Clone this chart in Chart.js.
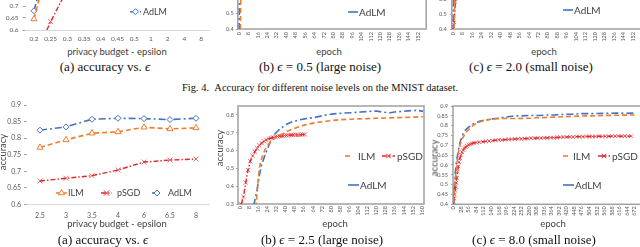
<!DOCTYPE html>
<html>
<head>
<meta charset="utf-8">
<script src="https://cdn.jsdelivr.net/npm/chart.js@4.4.1/dist/chart.umd.min.js"></script>
<style>
html, body { margin: 0; padding: 0; background: #fff; }
#page { position: relative; width: 640px; height: 247px; overflow: hidden; background: #fff; }
canvas { position: absolute; }
.t { position: absolute; white-space: nowrap; transform: translate(-50%, -50%); font-family: Lato, sans-serif; font-size: 9.5px; color: #404040; }
.yt { transform: translate(-50%, -50%) rotate(-90deg); }
.cap { font-family: "Liberation Serif", "Times New Roman", serif; font-size: 13px; color: #111; }
.fig { font-size: 10.5px; }
</style>
</head>
<body>
<div id="page">
  <canvas id="topA" width="213" height="118" style="left:0px;top:-76px"></canvas>
  <canvas id="topB" width="217" height="122" style="left:213px;top:-77px"></canvas>
  <canvas id="topC" width="216" height="116" style="left:430px;top:-71px"></canvas>
  <canvas id="botA" width="213" height="130" style="left:0px;top:95px"></canvas>
  <canvas id="botB" width="214" height="125" style="left:213px;top:95px"></canvas>
  <canvas id="botC" width="216" height="125" style="left:430px;top:95px"></canvas>

  <div class="t" style="left:117px;top:51px">privacy budget - epsilon</div>
  <div class="t" style="left:329px;top:51px">epoch</div>
  <div class="t" style="left:544px;top:51px">epoch</div>
  <div class="t cap" style="left:105px;top:67px">(a) accuracy vs. <i>ϵ</i></div>
  <div class="t cap" style="left:320px;top:67px">(b) <i>ϵ</i> = 0.5 (large noise)</div>
  <div class="t cap" style="left:531px;top:67px">(c) <i>ϵ</i> = 2.0 (small noise)</div>
  <div class="t cap fig" style="left:320px;top:87px">Fig. 4.&nbsp;&nbsp;Accuracy for different noise levels on the MNIST dataset.</div>

  <div class="t yt" style="left:2px;top:152px">accuracy</div>
  <div class="t yt" style="left:219px;top:148px">accuracy</div>
  <div class="t yt" style="left:434px;top:158px">accuracy</div>
  <div class="t" style="left:117px;top:223px">privacy budget - epsilon</div>
  <div class="t" style="left:335px;top:223px">epoch</div>
  <div class="t" style="left:553px;top:223px">epoch</div>
  <div class="t cap" style="left:103px;top:240px">(a) accuracy vs. <i>ϵ</i></div>
  <div class="t cap" style="left:322px;top:240px">(b) <i>ϵ</i> = 2.5 (large noise)</div>
  <div class="t cap" style="left:534px;top:240px">(c) <i>ϵ</i> = 8.0 (small noise)</div>
</div>

<script>
// ---- top row (only the lower part is in the picture) ----
const epsTop = ['0.2', '0.25', '0.3', '0.35', '0.4', '0.45', '0.5', '1', '2', '4', '8'];
const topA_ILM  = [0.646, 0.91, 0.94, 0.95, 0.955, 0.96, 0.962, 0.968, 0.972, 0.975, 0.976];
const topA_pSGD = [0.48, 0.635, 0.77, 0.84, 0.87, 0.89, 0.9, 0.92, 0.93, 0.94, 0.94];
const topA_AdLM = [0.68, 0.93, 0.95, 0.96, 0.965, 0.968, 0.97, 0.975, 0.978, 0.98, 0.98];
const topA_yTicks = [0.6, 0.65, 0.7, 0.75, 0.8, 0.85, 0.9, 0.95, 1.0];

const topB_epochs = [0, 1, 2, 4, 8, 16, 32, 64, 96, 128, 158];
const topB_ILM  = [0.2, 0.3, 0.88, 0.9, 0.92, 0.94, 0.95, 0.96, 0.965, 0.968, 0.97];
const topB_pSGD = [0.65, 0.75, 0.8, 0.84, 0.87, 0.89, 0.9, 0.91];
const topB_AdLM = [0.3, 0.9, 0.92, 0.93, 0.94, 0.95, 0.96, 0.97, 0.972, 0.975, 0.976];

const topC_epochs = [0, 1, 2, 3, 4, 8, 16, 32, 64, 96, 128, 162];
const topC_ILM  = [0.3, 0.42, 0.88, 0.9, 0.91, 0.93, 0.95, 0.96, 0.97, 0.972, 0.975, 0.976];
const topC_pSGD = [0.4, 0.445, 0.58, 0.68, 0.74, 0.82, 0.87, 0.9, 0.92, 0.93, 0.935, 0.94];
const topC_AdLM = [0.35, 0.85, 0.9, 0.91, 0.92, 0.94, 0.95, 0.96, 0.97, 0.975, 0.977, 0.978];

const topEpochTicks = [0, 8, 16, 24, 32, 40, 48, 56, 64, 72, 80, 88, 96, 104, 112, 120, 128, 136, 144, 152];
const topBC_yTicks = [0.4, 0.5, 0.6, 0.7, 0.8, 0.9, 1.0];

// ---- bottom row ----
const epsBot = ['2.5', '3', '3.5', '4', '6', '6.5', '8'];
const botA_ILM  = [0.772, 0.795, 0.815, 0.819, 0.833, 0.828, 0.831];
const botA_pSGD = [0.671, 0.679, 0.687, 0.704, 0.728, 0.734, 0.737];
const botA_AdLM = [0.824, 0.834, 0.857, 0.86, 0.859, 0.856, 0.86];
const botA_yTicks = [0.6, 0.65, 0.7, 0.75, 0.8, 0.85, 0.9];

const botB_ILM_ep = [14, 16, 17, 18, 20, 22, 25, 28, 31, 34, 38, 42, 46, 50, 55, 60, 66, 72, 80, 88, 96, 104, 112, 120, 130, 140, 150, 161];
const botB_ILM    = [0.28, 0.44, 0.5, 0.535, 0.575, 0.605, 0.635, 0.655, 0.672, 0.684, 0.696, 0.71, 0.72, 0.73, 0.74, 0.748, 0.756, 0.762, 0.768, 0.773, 0.776, 0.778, 0.779, 0.781, 0.783, 0.785, 0.787, 0.79];
const botB_pSGD_ep = [1, 3, 5, 7, 9, 11, 13, 15, 17, 19, 21, 23, 25, 27, 29, 31, 33, 35, 37, 39, 41, 43, 45, 47, 49, 51, 53, 55, 57];
const botB_pSGD    = [0.30, 0.34, 0.42, 0.49, 0.54, 0.57, 0.594, 0.612, 0.63, 0.641, 0.652, 0.66, 0.666, 0.67, 0.674, 0.677, 0.679, 0.681, 0.682, 0.684, 0.685, 0.686, 0.687, 0.687, 0.688, 0.688, 0.689, 0.69, 0.69];
const botB_AdLM_ep = [12, 15, 17, 19, 22, 26, 30, 35, 40, 46, 52, 58, 66, 74, 82, 90, 98, 106, 114, 120, 126, 132, 138, 144, 150, 156, 161];
const botB_AdLM    = [0.29, 0.38, 0.46, 0.52, 0.575, 0.64, 0.69, 0.72, 0.745, 0.762, 0.772, 0.779, 0.786, 0.798, 0.806, 0.81, 0.812, 0.816, 0.82, 0.822, 0.815, 0.812, 0.818, 0.82, 0.824, 0.826, 0.82];
const botB_xTicks = [0, 8, 16, 24, 32, 40, 48, 56, 64, 72, 80, 88, 96, 104, 112, 120, 128, 136, 144, 152, 160];
const botB_yTicks = [0.3, 0.4, 0.5, 0.6, 0.7, 0.8];

const botC_ILM_ep = [0, 2, 4, 7, 10, 14, 19, 25, 31, 40, 50, 62, 74, 86, 99, 115, 136, 160, 198, 230, 260, 290, 310, 350, 384, 420, 471, 510, 558, 610, 657, 672];
const botC_ILM    = [0.41, 0.45, 0.482, 0.53, 0.567, 0.62, 0.67, 0.705, 0.73, 0.752, 0.772, 0.789, 0.803, 0.812, 0.82, 0.826, 0.832, 0.835, 0.837, 0.836, 0.837, 0.838, 0.84, 0.842, 0.844, 0.846, 0.849, 0.85, 0.852, 0.853, 0.854, 0.854];
const botC_pSGD_ep = [0, 2, 4, 6, 8, 10, 12, 15, 18, 21, 24, 28, 32, 36, 40, 45, 50, 56, 62, 68, 75,
  84, 96, 108, 120, 132, 144, 156, 168, 180, 192, 204, 216, 228, 240, 252, 264, 276, 288, 300, 312,
  324, 336, 348, 360, 372, 384, 396, 408, 420, 432, 444, 456, 468, 480, 492, 504, 516, 528, 540, 552,
  564, 576, 588, 600, 612, 624, 636, 648, 660];
const botC_pSGD = [0.414, 0.43, 0.448, 0.47, 0.49, 0.51, 0.533, 0.565, 0.593, 0.615, 0.635, 0.652, 0.665, 0.676, 0.684, 0.691, 0.697, 0.702, 0.706, 0.709, 0.712,
  0.714, 0.716, 0.718, 0.72, 0.722, 0.724, 0.726, 0.728, 0.727, 0.729, 0.73, 0.731, 0.732, 0.733, 0.733, 0.734, 0.735, 0.736, 0.736, 0.737,
  0.737, 0.738, 0.738, 0.739, 0.739, 0.74, 0.741, 0.742, 0.742, 0.743, 0.743, 0.744, 0.744, 0.744, 0.745, 0.745, 0.745, 0.745, 0.746, 0.745,
  0.746, 0.746, 0.746, 0.746, 0.747, 0.746, 0.747, 0.746, 0.747];
const botC_AdLM_ep = [0, 2, 4, 7, 11, 15, 20, 25, 31, 37, 46, 56, 68, 81, 96, 112, 136, 161, 190, 223, 254, 285, 316, 347, 378, 409, 440, 471, 502, 533, 570, 607, 640, 672];
const botC_AdLM    = [0.40, 0.45, 0.5, 0.567, 0.615, 0.652, 0.69, 0.72, 0.742, 0.763, 0.78, 0.792, 0.805, 0.815, 0.822, 0.828, 0.833, 0.837, 0.843, 0.849, 0.85, 0.852, 0.852, 0.854, 0.855, 0.857, 0.858, 0.861, 0.861, 0.862, 0.863, 0.864, 0.863, 0.864];
const botC_xTicks = [0, 28, 56, 84, 112, 140, 168, 196, 224, 252, 280, 308, 336, 364, 392, 420, 448, 476, 504, 532, 560, 588, 616, 644, 672];
const botC_yTicks = [0.4, 0.45, 0.5, 0.55, 0.6, 0.65, 0.7, 0.75, 0.8, 0.85, 0.9];

const BLUE = '#4472c4', ORANGE = '#ed7d31', RED = '#e3262b';

Chart.defaults.font.family = 'Lato, sans-serif';
Chart.defaults.color = '#595959';

function pts(xs, ys) {
  return ys.map((v, i) => ({ x: xs[i], y: v }));
}

function ilm(data, r) {
  return { label: 'ILM', data, borderColor: ORANGE, borderWidth: 1.6, borderDash: [5, 3],
    pointStyle: 'triangle', pointRadius: r || 0, pointBorderColor: ORANGE, pointBackgroundColor: '#fff', pointBorderWidth: 1 };
}
function psgd(data, r) {
  return { label: 'pSGD', data, borderColor: RED, borderWidth: 1.4, borderDash: [5, 2, 1.5, 2],
    pointStyle: 'crossRot', pointRadius: r || 0, pointBorderColor: 'rgba(227,38,43,0.75)', pointBackgroundColor: '#fff', pointBorderWidth: 0.9 };
}
function adlm(data, r) {
  return { label: 'AdLM', data, borderColor: BLUE, borderWidth: 1.6, borderDash: [7, 3, 2, 3],
    pointStyle: 'rectRot', pointRadius: r || 0, pointBorderColor: BLUE, pointBackgroundColor: '#fff', pointBorderWidth: 1 };
}

function drawMark(ctx, style, x, y, r, stroke, fill, lw) {
  ctx.save();
  ctx.setLineDash([]);
  ctx.strokeStyle = stroke;
  ctx.fillStyle = fill;
  ctx.lineWidth = lw;
  ctx.beginPath();
  if (style === 'triangle') {
    ctx.moveTo(x, y - r); ctx.lineTo(x + r * 0.866, y + r * 0.5); ctx.lineTo(x - r * 0.866, y + r * 0.5);
    ctx.closePath(); ctx.fill(); ctx.stroke();
  } else if (style === 'rectRot') {
    ctx.moveTo(x, y - r); ctx.lineTo(x + r, y); ctx.lineTo(x, y + r); ctx.lineTo(x - r, y);
    ctx.closePath(); ctx.fill(); ctx.stroke();
  } else if (style === 'crossRot') {
    const d = r * 0.75;
    ctx.moveTo(x - d, y - d); ctx.lineTo(x + d, y + d);
    ctx.moveTo(x + d, y - d); ctx.lineTo(x - d, y + d);
    ctx.stroke();
  }
  ctx.restore();
}

// grey border round the plot area (Excel style)
const frame = {
  id: 'frame',
  beforeDatasetsDraw(chart, args, o) {
    if (!o.color) return;
    const a = chart.chartArea, ctx = chart.ctx;
    ctx.save();
    ctx.strokeStyle = o.color;
    ctx.lineWidth = o.width;
    ctx.strokeRect(a.left, a.top, a.right - a.left, a.bottom - a.top);
    ctx.restore();
  }
};

// legend entries placed inside the plot
const key = {
  id: 'key',
  afterDraw(chart, args, o) {
    const ctx = chart.ctx;
    (o.items || []).forEach(it => {
      const ds = chart.data.datasets[it.ds];
      ctx.save();
      ctx.strokeStyle = ds.borderColor;
      ctx.lineWidth = ds.borderWidth;
      ctx.setLineDash(it.solid ? [] : ds.borderDash);
      ctx.beginPath();
      ctx.moveTo(it.x1, it.y);
      ctx.lineTo(it.x2, it.y);
      ctx.stroke();
      if (it.mark) {
        drawMark(ctx, ds.pointStyle, (it.x1 + it.x2) / 2, it.y, it.mark, ds.borderColor, '#fff', 1);
      }
      ctx.fillStyle = '#404040';
      ctx.font = o.font;
      ctx.textBaseline = 'middle';
      ctx.fillText(ds.label, it.tx, it.y + 0.5);
      ctx.restore();
    });
  }
};

function fmt(v) { return String(+(+v).toFixed(2)); }

function makeChart(id, c) {
  const xScale = c.categories ? {
    type: 'category', offset: true,
    grid: { display: false, drawTicks: false },
    border: { display: !c.frame, color: '#d9d9d9', width: 1 },
    ticks: { font: { size: c.xFont }, padding: c.xPad, autoSkip: false, maxRotation: 0 },
    afterFit(s) { s.height = c.xH; s.paddingLeft = 0; s.paddingRight = 0; }
  } : {
    type: 'linear', min: c.xMin, max: c.xMax,
    grid: { display: false, drawTicks: false },
    border: { display: false },
    ticks: { font: { size: c.xFont }, padding: c.xPad, autoSkip: false, minRotation: 90, maxRotation: 90, callback: v => String(v) },
    afterBuildTicks(s) { s.ticks = c.xTicks.map(v => ({ value: v })); },
    afterFit(s) { s.height = c.xH; s.paddingLeft = 0; s.paddingRight = 0; }
  };
  return new Chart(document.getElementById(id), {
    type: 'line',
    data: { labels: c.categories, datasets: c.datasets },
    options: {
      responsive: false, animation: false, events: [],
      layout: { padding: c.pad, autoPadding: false },
      elements: { line: { tension: 0, fill: false } },
      plugins: {
        legend: { display: false }, tooltip: { enabled: false },
        frame: c.frame || {}, key: c.key
      },
      scales: {
        x: xScale,
        y: {
          min: c.yMin, max: c.yMax,
          grid: { drawOnChartArea: false, drawTicks: true, tickLength: c.tickLen, color: '#a6a6a6' },
          border: { display: false },
          ticks: { font: { size: c.yFont }, padding: c.yPad, callback: fmt },
          afterBuildTicks(s) { s.ticks = c.yTicks.map(v => ({ value: v })); },
          afterFit(s) { s.width = c.yW; s.paddingTop = 0; s.paddingBottom = 0; }
        }
      }
    },
    plugins: [frame, key]
  });
}

// top (a)
makeChart('topA', {
  categories: epsTop,
  datasets: [ilm(topA_ILM, 3.5), psgd(topA_pSGD, 3.5), adlm(topA_AdLM, 3)],
  pad: { top: 10, left: 0, right: 3.6, bottom: 0 },
  xH: 12, xFont: 6.5, xPad: 5,
  yMin: 0.6, yMax: 1.0, yTicks: topA_yTicks, yW: 25.6, yFont: 6.5, yPad: 4, tickLen: 3,
  key: { font: '9px Lato, sans-serif', items: [{ ds: 2, x1: 130, x2: 141, y: 87.7, tx: 143, mark: 3 }] }
});

// top (b)
makeChart('topB', {
  datasets: [ilm(pts(topB_epochs, topB_ILM)), psgd(pts(topB_epochs, topB_pSGD), 2.5), adlm(pts(topB_epochs, topB_AdLM))],
  xMin: -1, xMax: 159, xTicks: topEpochTicks, xH: 16, xFont: 5.5, xPad: 3,
  pad: { top: 10, left: 0, right: 3.8, bottom: 0 },
  yMin: 0.4, yMax: 1.0, yTicks: topBC_yTicks, yW: 24.8, yFont: 5.5, yPad: 2, tickLen: 2,
  frame: { color: '#a0a0a0', width: 1.5 },
  key: { font: '10px Lato, sans-serif', items: [{ ds: 2, x1: 135, x2: 145, y: 89, tx: 146, solid: true }] }
});

// top (c)
makeChart('topC', {
  datasets: [ilm(pts(topC_epochs, topC_ILM)), psgd(pts(topC_epochs, topC_pSGD), 2.5), adlm(pts(topC_epochs, topC_AdLM))],
  xMin: -1, xMax: 162, xTicks: topEpochTicks, xH: 16, xFont: 5.5, xPad: 3,
  pad: { top: 10, left: 0, right: 1.2, bottom: 0 },
  yMin: 0.4, yMax: 1.0, yTicks: topBC_yTicks, yW: 21.8, yFont: 5.5, yPad: 3, tickLen: 2,
  frame: { color: '#a0a0a0', width: 1.5 },
  key: { font: '10px Lato, sans-serif', items: [{ ds: 2, x1: 133, x2: 143, y: 81, tx: 144, solid: true }] }
});

// bottom (a)
makeChart('botA', {
  categories: epsBot,
  datasets: [ilm(botA_ILM, 3.5), psgd(botA_pSGD, 3.5), adlm(botA_AdLM, 3)],
  pad: { top: 10, left: 0, right: 4, bottom: 6.5 },
  xH: 14, xFont: 7, xPad: 7,
  yMin: 0.6, yMax: 0.9, yTicks: botA_yTicks, yW: 27, yFont: 7, yPad: 3, tickLen: 3,
  key: { font: '9px Lato, sans-serif', items: [
    { ds: 0, x1: 56, x2: 67, y: 98, tx: 68, mark: 3.5 },
    { ds: 1, x1: 101, x2: 112, y: 98, tx: 117, mark: 3.5 },
    { ds: 2, x1: 152, x2: 162, y: 98, tx: 168, mark: 3 }
  ] }
});

// bottom (b)
makeChart('botB', {
  datasets: [ilm(pts(botB_ILM_ep, botB_ILM)), psgd(pts(botB_pSGD_ep, botB_pSGD), 3), adlm(pts(botB_AdLM_ep, botB_AdLM))],
  xMin: -1.8, xMax: 161.8, xTicks: botB_xTicks, xH: 16, xFont: 5.5, xPad: 2,
  pad: { top: 11, left: 0, right: 3, bottom: 0 },
  yMin: 0.3, yMax: 0.85, yTicks: botB_yTicks, yW: 25, yFont: 5.5, yPad: 2, tickLen: 2,
  frame: { color: '#a0a0a0', width: 1.5 },
  key: { font: '10px Lato, sans-serif', items: [
    { ds: 0, x1: 132, x2: 139, y: 61, tx: 145 },
    { ds: 1, x1: 169, x2: 182, y: 61, tx: 184, mark: 3 },
    { ds: 2, x1: 135, x2: 146, y: 90, tx: 147, solid: true }
  ] }
});

// bottom (c)
makeChart('botC', {
  datasets: [ilm(pts(botC_ILM_ep, botC_ILM)), psgd(pts(botC_pSGD_ep, botC_pSGD), 2.6), adlm(pts(botC_AdLM_ep, botC_AdLM))],
  xMin: -2, xMax: 711, xTicks: botC_xTicks, xH: 15.7, xFont: 5.5, xPad: 2,
  pad: { top: 11, left: 0, right: 1, bottom: 0 },
  yMin: 0.4, yMax: 0.9, yTicks: botC_yTicks, yW: 23, yFont: 5.5, yPad: 3, tickLen: 2,
  frame: { color: '#a0a0a0', width: 1.5 },
  key: { font: '10px Lato, sans-serif', items: [
    { ds: 0, x1: 133, x2: 138, y: 61, tx: 143 },
    { ds: 1, x1: 168, x2: 180, y: 61, tx: 182, mark: 3 },
    { ds: 2, x1: 133, x2: 144, y: 90, tx: 145, solid: true }
  ] }
});
</script>
</body>
</html>
